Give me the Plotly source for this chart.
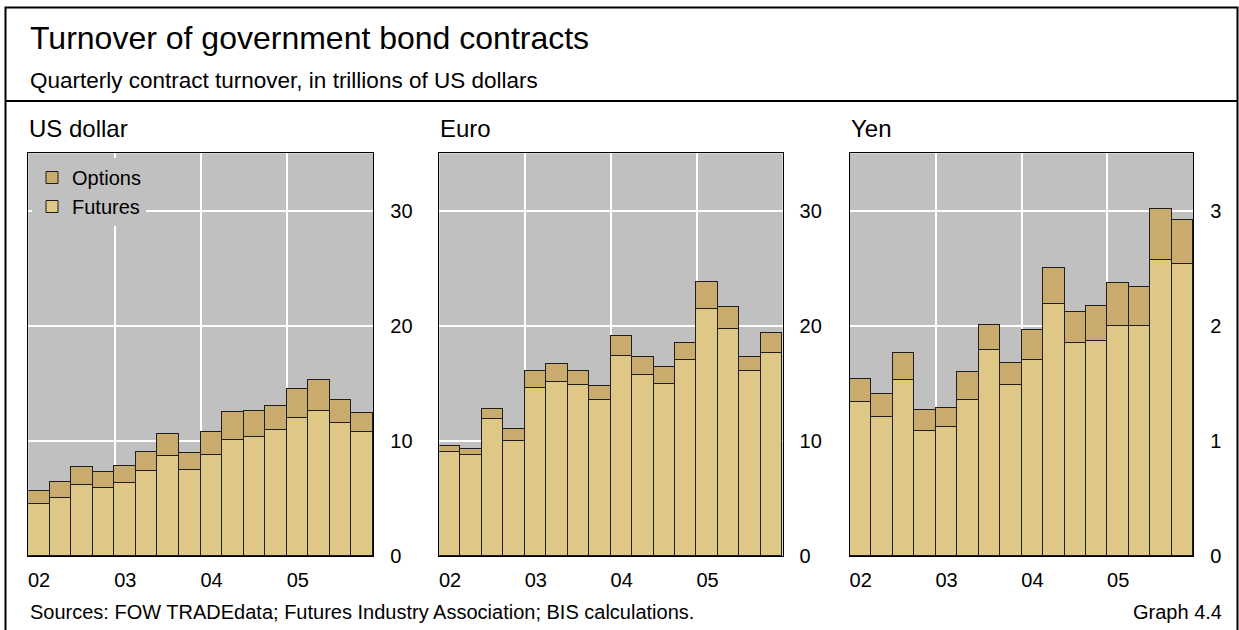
import plotly.graph_objects as go

W, H = 1239, 630

quarters = ["2002Q1", "2002Q2", "2002Q3", "2002Q4",
            "2003Q1", "2003Q2", "2003Q3", "2003Q4",
            "2004Q1", "2004Q2", "2004Q3", "2004Q4",
            "2005Q1", "2005Q2", "2005Q3", "2005Q4"]
year_labels = ["02", "03", "04", "05"]

usd_futures = [4.48, 5.03, 6.13, 5.92, 6.36, 7.40, 8.64, 7.43,
               8.76, 10.06, 10.32, 10.92, 11.94, 12.60, 11.50, 10.75]
usd_options = [1.16, 1.39, 1.56, 1.39, 1.47, 1.65, 1.94, 1.53,
               1.99, 2.43, 2.28, 2.11, 2.57, 2.69, 2.00, 1.68]

eur_futures = [8.99, 8.76, 11.85, 10.00, 14.57, 15.06, 14.80, 13.53,
               17.40, 15.69, 14.88, 16.99, 21.47, 19.68, 16.01, 17.66]
eur_options = [0.58, 0.49, 0.87, 0.98, 1.50, 1.56, 1.24, 1.21,
               1.73, 1.62, 1.51, 1.54, 2.32, 1.94, 1.30, 1.70]

jpy_futures = [1.338, 1.202, 1.526, 1.084, 1.116, 1.353, 1.789, 1.480,
               1.697, 2.188, 1.850, 1.864, 1.994, 1.997, 2.572, 2.538]
jpy_options = [0.200, 0.206, 0.237, 0.179, 0.170, 0.245, 0.220, 0.199,
               0.268, 0.315, 0.271, 0.309, 0.379, 0.341, 0.442, 0.381]

panel_titles = ["US dollar", "Euro", "Yen"]
y_ticks = [[0, 10, 20, 30], [0, 10, 20, 30], [0, 1, 2, 3]]
y_max = [35, 35, 3.5]

FUT_COLOR = "#DFC885"
OPT_COLOR = "#C9AB6E"
EDGE = "#1E1E1E"
BG = "#C0C0C0"
FONT = "Liberation Sans, Arial, sans-serif"

x_pos = list(range(len(quarters)))
year_first_q = [i for i, q in enumerate(quarters) if q.endswith("Q1")]
year_bounds = [i - 0.5 for i in year_first_q[1:]]

panels_px = [(28.3, 373.3), (439.3, 782.6), (850.0, 1193.3)]
plot_top, plot_bot = 153.3, 556.0

fig = go.Figure()
data = [(usd_futures, usd_options), (eur_futures, eur_options), (jpy_futures, jpy_options)]
for k, (fut, opt) in enumerate(data):
    sx = "" if k == 0 else str(k + 1)
    fig.add_trace(go.Bar(x=x_pos, y=fut, name="Futures", xaxis="x" + sx, yaxis="y" + sx,
                         marker=dict(color=FUT_COLOR, line=dict(color=EDGE, width=1)),
                         showlegend=(k == 0), legendgroup="fut", hovertext=quarters))
    fig.add_trace(go.Bar(x=x_pos, y=opt, name="Options", xaxis="x" + sx, yaxis="y" + sx,
                         marker=dict(color=OPT_COLOR, line=dict(color=EDGE, width=1)),
                         showlegend=(k == 0), legendgroup="opt", hovertext=quarters))

layout = dict(
    template="none",
    width=W, height=H, autosize=False,
    margin=dict(l=0, r=0, t=0, b=0, pad=0, autoexpand=False),
    paper_bgcolor="white", plot_bgcolor=BG,
    barmode="stack", bargap=0,
    font=dict(family=FONT, size=20, color="black"),
    showlegend=True,
    legend=dict(x=32 / W, y=1 - 158 / H, xanchor="left", yanchor="top",
                bgcolor=BG, font=dict(size=20), traceorder="reversed",
                itemwidth=30, tracegroupgap=0, borderwidth=0),
)

ydom = [1 - plot_bot / H, 1 - plot_top / H]
for k, (x0, x1) in enumerate(panels_px):
    sx = "" if k == 0 else str(k + 1)
    layout["xaxis" + sx] = dict(
        domain=[x0 / W, x1 / W], range=[-0.5, len(quarters) - 0.5], automargin=False,
        anchor="y" + sx, tickmode="array", tickvals=year_first_q, ticktext=year_labels,
        showgrid=False, zeroline=False, ticks="", ticklabelstandoff=6,
        minor=dict(tickmode="array", tickvals=year_bounds, showgrid=True,
                   gridcolor="white", gridwidth=1.5, ticks=""),
        showline=True, mirror=True, linecolor="black", linewidth=1,
        tickfont=dict(size=20),
    )
    layout["yaxis" + sx] = dict(
        domain=ydom, range=[0, y_max[k]], anchor="x" + sx, side="right", automargin=False,
        tickmode="array", tickvals=y_ticks[k],
        showgrid=True, gridcolor="white", gridwidth=1.5, zeroline=False,
        showline=True, mirror=True, linecolor="black", linewidth=1,
        ticks="", ticklabelstandoff=12, tickfont=dict(size=20),
    )

fig.update_layout(**layout)

annotations = [
    dict(text="Turnover of government bond contracts", x=28 / W, y=1 - 38 / H, size=32),
    dict(text="Quarterly contract turnover, in trillions of US dollars", x=28 / W, y=1 - 81 / H, size=22.5),
    dict(text="Sources: FOW TRADEdata; Futures Industry Association; BIS calculations.",
         x=28 / W, y=1 - 612 / H, size=20),
]
for k, (x0, x1) in enumerate(panels_px):
    annotations.append(dict(text=panel_titles[k], x=(x0 - 1) / W, y=1 - 129 / H, size=24))

for a in annotations:
    fig.add_annotation(text=a["text"], x=a["x"], y=a["y"], xref="paper", yref="paper",
                       xanchor="left", yanchor="middle", showarrow=False,
                       font=dict(size=a["size"], family=FONT, color="black"))
fig.add_annotation(text="Graph 4.4", x=1224 / W, y=1 - 612 / H, xref="paper", yref="paper",
                   xanchor="right", yanchor="middle", showarrow=False,
                   font=dict(size=20, family=FONT, color="black"))

fig.add_shape(type="rect", xref="paper", yref="paper",
              x0=5.5 / W, x1=1237.5 / W, y0=-0.05, y1=1 - 7.5 / H,
              line=dict(color="black", width=2), layer="above")
fig.add_shape(type="line", xref="paper", yref="paper",
              x0=5.5 / W, x1=1237.5 / W, y0=1 - 101 / H, y1=1 - 101 / H,
              line=dict(color="black", width=2), layer="above")

fig.write_html("out.html", config={"displayModeBar": False},
               post_script="document.body.style.margin='0';document.body.style.overflow='hidden';")
